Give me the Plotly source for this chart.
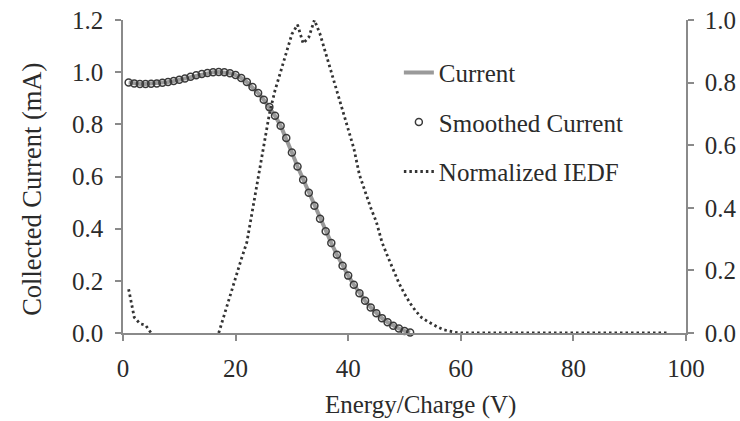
import plotly.graph_objects as go

# ---- data ----
energy_v = list(range(1, 52))
current_ma = [0.960, 0.957, 0.955, 0.955, 0.956, 0.957, 0.959, 0.962, 0.966, 0.971,
              0.976, 0.982, 0.988, 0.993, 0.997, 1.000, 1.001, 1.000, 0.996, 0.989,
              0.978, 0.962, 0.943, 0.920, 0.894, 0.866, 0.833, 0.795, 0.748, 0.692,
              0.638, 0.588, 0.538, 0.488, 0.438, 0.390, 0.345, 0.300, 0.258, 0.220,
              0.185, 0.152, 0.124, 0.098, 0.076, 0.057, 0.041, 0.028, 0.017, 0.008,
              0.002]
smoothed_ma = [0.960, 0.957, 0.955, 0.955, 0.956, 0.957, 0.959, 0.962, 0.966, 0.971,
               0.976, 0.982, 0.988, 0.993, 0.997, 1.000, 1.001, 1.000, 0.996, 0.989,
               0.978, 0.962, 0.943, 0.920, 0.894, 0.866, 0.833, 0.795, 0.748, 0.692,
               0.638, 0.588, 0.538, 0.488, 0.438, 0.390, 0.345, 0.300, 0.258, 0.220,
               0.185, 0.152, 0.124, 0.098, 0.076, 0.057, 0.041, 0.028, 0.017, 0.008,
               0.002]

iedf_energy_v = list(range(1, 98))
iedf_norm = ([0.14, 0.05, 0.03, 0.025, 0.0]
             + [None] * 11
             + [0.0, 0.06, 0.12, 0.18, 0.235, 0.29, 0.39, 0.49, 0.60, 0.70,
                0.775, 0.835, 0.90, 0.955, 0.985, 0.925, 0.945, 1.0, 0.955, 0.895,
                0.83, 0.77, 0.71, 0.655, 0.59, 0.505, 0.45, 0.40, 0.355, 0.29,
                0.245, 0.20, 0.16, 0.125, 0.095, 0.07, 0.05, 0.038, 0.027, 0.018,
                0.01, 0.005, 0.002]
             + [0.0] * 38)

x_ticks = [0, 20, 40, 60, 80, 100]
y_left_ticks = [0.0, 0.2, 0.4, 0.6, 0.8, 1.0, 1.2]
y_right_ticks = [0.0, 0.2, 0.4, 0.6, 0.8, 1.0]

FONT = "Liberation Serif, Times New Roman, serif"
TXT = "#2b2b2b"
AX = "#8a8a8a"
FS = 25

fig = go.Figure()
fig.add_trace(go.Scatter(
    x=energy_v, y=current_ma, mode="lines", name="Current",
    line=dict(color="#9a9a9a", width=4), legendgroup="a"))
fig.add_trace(go.Scatter(
    x=energy_v, y=smoothed_ma, mode="markers", name="Smoothed Current",
    marker=dict(symbol="circle-open", size=7, color="#3a3a3a", line=dict(width=1.5)),
    cliponaxis=False, legendgroup="b"))
fig.add_trace(go.Scatter(
    x=iedf_energy_v, y=iedf_norm, mode="lines", name="Normalized IEDF",
    line=dict(color="#333333", width=2.8, dash="2.5px,3px"), connectgaps=False,
    yaxis="y2", legendgroup="c"))

axis_common = dict(showline=True, linecolor=AX, linewidth=1.5, ticks="outside",
                   ticklen=6, tickwidth=1.5, tickcolor=AX, showgrid=False,
                   zeroline=False, automargin=False,
                   tickfont=dict(family=FONT, size=FS, color=TXT))

fig.update_layout(
    width=740, height=421,
    margin=dict(l=123, r=54, t=20, b=88),
    paper_bgcolor="white", plot_bgcolor="white",
    font=dict(family=FONT, size=FS, color=TXT),
    xaxis=dict(range=[0, 100], tickvals=x_ticks, ticklabelstandoff=6, **axis_common),
    yaxis=dict(range=[0, 1.2], tickvals=y_left_ticks, tickformat=".1f", **axis_common,
               ticklabelstandoff=7),
    yaxis2=dict(range=[0, 1.0], tickvals=y_right_ticks, tickformat=".1f", overlaying="y",
                side="right", ticklabelstandoff=6, **axis_common),
    legend=dict(x=0.49, y=0.905, xanchor="left", yanchor="top",
                bgcolor="rgba(0,0,0,0)", tracegroupgap=14,
                font=dict(family=FONT, size=FS, color=TXT)),
    annotations=[
        dict(text="Collected Current (mA)", textangle=-90,
             xref="paper", yref="paper", x=-0.162, y=0.46,
             xanchor="center", yanchor="middle", showarrow=False,
             font=dict(family=FONT, size=26.5, color=TXT)),
        dict(text="Energy/Charge (V)",
             xref="paper", yref="paper", x=0.529, y=-0.23,
             xanchor="center", yanchor="middle", showarrow=False,
             font=dict(family=FONT, size=FS, color=TXT)),
    ],
    showlegend=True,
)

fig.write_html("out.html", config={"displayModeBar": False},
               post_script="document.body.style.margin='0';")
